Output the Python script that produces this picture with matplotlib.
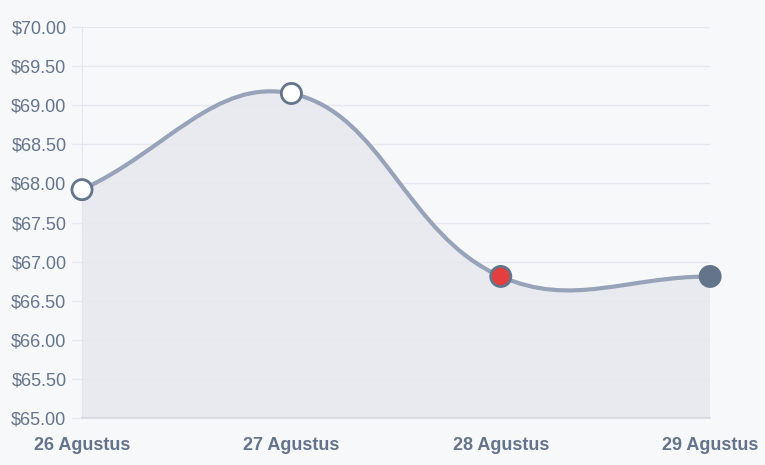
import numpy as np
import matplotlib.pyplot as plt
from matplotlib.path import Path
from matplotlib.patches import PathPatch

plt.rcParams['font.family'] = ['Liberation Sans', 'DejaVu Sans']

# data
dates = ['26 Agustus', '27 Agustus', '28 Agustus', '29 Agustus']
prices = [67.92, 69.15, 66.81, 66.81]
y_ticks = np.arange(65.0, 70.01, 0.5)

line_color = '#97a3b9'
dark = '#64748b'
grid_color = '#e6e8ee'


def spline_controls(px, py, tension=0.4):
    """ Chart.js style bezier control points, computed in pixel space """
    n = len(px)
    cps = []
    for i in range(n):
        prev = (px[max(i - 1, 0)], py[max(i - 1, 0)])
        cur = (px[i], py[i])
        nxt = (px[min(i + 1, n - 1)], py[min(i + 1, n - 1)])
        d01 = np.hypot(cur[0] - prev[0], cur[1] - prev[1])
        d12 = np.hypot(nxt[0] - cur[0], nxt[1] - cur[1])
        tot = d01 + d12
        s01 = d01 / tot if tot else 0
        s12 = d12 / tot if tot else 0
        fa, fb = tension * s01, tension * s12
        cp_prev = (cur[0] - fa * (nxt[0] - prev[0]), cur[1] - fa * (nxt[1] - prev[1]))
        cp_next = (cur[0] + fb * (nxt[0] - prev[0]), cur[1] + fb * (nxt[1] - prev[1]))
        cps.append((cp_prev, cp_next))
    return cps


fig = plt.figure(figsize=(7.65, 4.65), dpi=100)
fig.patch.set_facecolor('#f7f8fa')
ax = fig.add_axes([0.1072, 0.1011, 0.8211, 0.8408])
ax.set_facecolor('none')

x = np.arange(len(dates))
ax.set_xlim(0, len(dates) - 1)
ax.set_ylim(65, 70)

# bezier path in pixel space, then back to data
pix = ax.transData.transform(np.column_stack([x, prices]))
cps = spline_controls(pix[:, 0], pix[:, 1])
verts = [tuple(pix[0])]
codes = [Path.MOVETO]
for i in range(len(x) - 1):
    verts += [cps[i][1], cps[i + 1][0], tuple(pix[i + 1])]
    codes += [Path.CURVE4] * 3
inv = ax.transData.inverted()
verts_d = inv.transform(np.array(verts))

curve = Path(verts_d, codes)
fill_verts = list(verts_d) + [(x[-1], 65), (x[0], 65), (x[0], prices[0])]
fill_codes = codes + [Path.LINETO, Path.LINETO, Path.CLOSEPOLY]
ax.add_patch(PathPatch(Path(fill_verts, fill_codes), facecolor='#e9eaf0',
                       edgecolor='none', zorder=1))
ax.add_patch(PathPatch(curve, facecolor='none', edgecolor=line_color,
                       lw=3, zorder=3, capstyle='round'))

# markers
face = ['white', 'white', '#e53e3e', dark]
ax.scatter(x, prices, s=210, c=face, edgecolors=dark, linewidths=2.0,
           zorder=5, clip_on=False)

ax.set_yticks(y_ticks)
ax.set_yticklabels([f'${v:.2f}' for v in y_ticks])
ax.set_xticks(x)
ax.set_xticklabels(dates, fontweight='bold')
ax.grid(axis='y', color=grid_color, lw=1, zorder=0)
ax.tick_params(axis='y', colors=grid_color, labelcolor=dark, labelsize=13,
               length=7.2, width=1, pad=4)
ax.tick_params(axis='x', length=0, labelcolor=dark, labelsize=13, pad=14)

for s in ['top', 'right']:
    ax.spines[s].set_visible(False)
ax.spines['left'].set_color('#e3e5ea')
ax.spines['bottom'].set_color('#d4d7de')
ax.spines['bottom'].set_linewidth(1.2)

fig.savefig('out.png', dpi=100, facecolor=fig.get_facecolor())
